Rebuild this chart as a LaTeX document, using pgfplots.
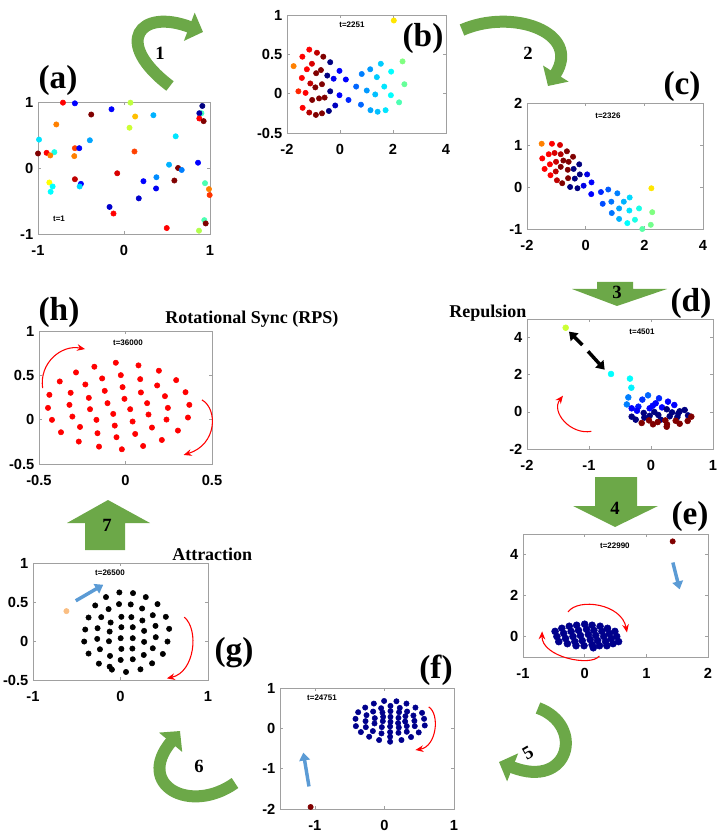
\documentclass[border=0pt]{standalone}
\usepackage{pgfplots}
\pgfplotsset{compat=1.18}
\usetikzlibrary{arrows.meta}
\usepackage{fontspec}
\setmainfont{Liberation Sans}
\newfontfamily\tnr{Liberation Serif}
\definecolor{axgray}{RGB}{160,160,160}
\definecolor{garrow}{RGB}{108,168,72}
\definecolor{barrow}{RGB}{91,155,213}
\definecolor{dred}{RGB}{128,0,0}
\definecolor{navy}{RGB}{0,0,140}
\definecolor{peach}{RGB}{250,190,130}
\pgfplotsset{
  panel/.style={scale only axis, anchor=north west, clip=false,
    axis line style={draw=axgray}, tick style={draw=axgray, line width=0.4pt},
    major tick length=2.5pt, tick align=inside,
    tick label style={font=\bfseries\fontsize{11}{12}\selectfont, text=black},
    xticklabel style={yshift=-5pt},
    colormap/jet, point meta min=0, point meta max=8},
  jetpts/.style={scatter, only marks, mark=*, mark size=2pt, point meta=explicit,
    scatter/use mapped color={draw=mapped color, fill=mapped color}},
}
\tikzset{
  tlab/.style={font=\bfseries\fontsize{6}{7}\selectfont},
  redarc/.style={red, line width=0.8pt, -{Stealth[length=6pt,width=5pt]}},
  bluearr/.style={barrow, line width=2.6pt, -{Triangle[length=6pt,width=8pt]}},
}
\begin{document}
\begin{tikzpicture}
\path[use as bounding box] (0,0) rectangle (544.5pt,-627.75pt);

% (a)
\begin{axis}[panel, at={(28.5pt,-76.5pt)}, width=129pt, height=99pt,
  xmin=-1, xmax=1, ymin=-1, ymax=1, xtick={-1,0,1}, ytick={-1,0,1},
  xticklabels={-1,0,1}, yticklabels={-1,0,1}]
\addplot[jetpts] table[meta=c] {
x y c
-0.71 0.99 7
-0.571 0.98 1
0.075 0.99 4.5
-0.381 0.81 8
-0.145 0.89 1
0.13 0.78 5.5
0.342 0.80 2.4
0.90 0.83 3.5
0.911 0.94 0
0.876 0.83 0.3
0.876 0.75 7
0.926 0.71 8
-0.787 0.66 6
0.064 0.61 4.6
-0.988 0.43 2.8
-0.397 0.42 2.3
0.601 0.48 2.8
-1.0 0.22 8
-0.90 0.23 7
-0.81 0.24 3.2
-0.857 0.19 6
-0.571 0.30 6.5
-0.52 0.30 1
-0.578 0.18 6
0.122 0.25 6.5
0.524 0.05 2.4
0.629 0.0 8
0.671 -0.03 2
0.861 0.08 1
-0.571 -0.17 7.5
-0.079 -0.08 7.3
-0.501 -0.24 1
-0.516 -0.28 2.7
-0.868 -0.22 5
-0.83 -0.28 3
-0.853 -0.36 3
0.226 -0.20 1
0.377 -0.14 2.1
0.373 -0.31 0.9
0.172 -0.46 0.6
0.586 -0.19 8
0.942 -0.23 3.6
0.988 -0.32 6
0.996 -0.41 6.6
-0.168 -0.59 0.6
-0.122 -0.69 7
0.497 -0.91 7
0.934 -0.79 3.6
0.95 -0.84 8
0.872 -0.95 4.4
};
\node[tlab] at (axis cs:-0.756,-0.77) {t=1};
\end{axis}

% (b)
\begin{axis}[panel, at={(215.25pt,-11.25pt)}, width=119.25pt, height=88.5pt,
  xmin=-2, xmax=4, ymin=-0.5, ymax=1, xtick={-2,0,2,4}, ytick={-0.5,0,0.5,1},
  xticklabels={-2,0,2,4}, yticklabels={-0.5,0,0.5,1}]
\addplot[jetpts] table[meta=c] {
x y c
2.03 0.93 5.2
-1.75 0.35 6
-1.42 0.47 7
-1.16 0.56 7
-0.87 0.52 7.5
-0.63 0.47 8
-0.37 0.40 0
-1.25 0.31 7
-1.06 0.38 7.3
-0.90 0.26 8
-0.72 0.30 8
-0.48 0.23 0
-0.24 0.19 0.9
-0.02 0.29 1
0.22 0.18 1
-1.44 0.20 7
-1.12 0.13 7.5
-0.93 0.08 8
-0.68 0.12 8
-0.37 0.03 0
-1.57 0.03 6.7
-1.30 0.01 7
-0.02 -0.02 1
-1.05 -0.08 8
-0.79 -0.06 8
-0.58 -0.05 8
-0.18 -0.15 0.5
0.32 -0.08 1.3
-1.41 -0.18 7
-1.16 -0.24 7.6
-0.91 -0.27 8
-0.68 -0.25 8
-0.42 -0.22 0
0.61 0.09 1.8
0.82 0.25 2
1.14 0.31 2.2
1.39 0.21 2.6
1.54 0.38 2.6
1.93 0.28 3
2.36 0.41 4
2.43 0.12 3.8
1.01 0.04 2.2
1.33 -0.01 2.5
1.67 0.09 2.8
1.92 -0.02 3
2.23 -0.11 3.6
0.79 -0.14 1.8
1.15 -0.21 2.3
1.42 -0.23 2.5
1.72 -0.21 2.8
};
\node[tlab] at (axis cs:0.45,0.87) {t=2251};
\end{axis}

% (c)
\begin{axis}[panel, at={(395.25pt,-77.25pt)}, width=132pt, height=94.5pt,
  xmin=-2, xmax=4, ymin=-1, ymax=2, xtick={-2,0,2,4}, ytick={-1,0,1,2},
  xticklabels={-2,0,2,4}, yticklabels={-1,0,1,2}]
\addplot[jetpts] table[meta=c] {
x y c
-1.50 1.03 6
-1.15 1.03 7
-0.875 1.00 7.3
-1.48 0.68 7
-1.26 0.78 7
-1.06 0.81 7.3
-0.85 0.78 7.6
-0.64 0.85 8
-1.40 0.43 7
-1.22 0.54 7
-1.01 0.60 7.4
-0.76 0.63 8
-0.58 0.60 8
-0.43 0.72 8
-1.20 0.28 7
-1.02 0.37 7.5
-0.85 0.48 8
-0.61 0.41 8
-0.41 0.43 0
-0.22 0.54 0
-0.98 0.16 7.5
-0.80 0.09 8
-0.60 0.21 8
-0.37 0.20 0
-0.20 0.30 0
0.05 0.30 0.8
-0.53 0.00 0
-0.28 -0.03 0
-0.07 0.03 0.8
0.20 0.11 1
0.19 -0.17 1
0.52 -0.12 1.3
0.77 -0.06 1.7
0.58 -0.40 1.6
0.875 -0.35 1.9
1.08 -0.15 2
1.30 -0.35 2.4
1.50 -0.25 2.7
0.89 -0.62 1.9
1.14 -0.51 2.3
1.14 -0.76 2.4
1.49 -0.56 2.8
1.82 -0.51 3.2
1.42 -0.86 3
1.68 -0.78 3.2
1.93 -1.00 3.7
2.22 -0.90 3.9
2.27 -0.60 4
2.24 -0.03 5.2
};
\node[tlab] at (axis cs:0.76,1.69) {t=2326};
\end{axis}

% (d)
\begin{axis}[panel, at={(395.25pt,-239.25pt)}, width=139.5pt, height=97.5pt,
  xmin=-2, xmax=1, ymin=-2, ymax=5, xtick={-2,-1,0,1}, ytick={-2,0,2,4},
  xticklabels={-2,-1,0,1}, yticklabels={-2,0,2,4}]
\addplot[jetpts, mark size=2.2pt] table[meta=c] {
x y c
-1.376 4.53 4.6
-0.645 2.04 3
-0.34 1.79 3
-0.317 1.30 2.9
-0.366 0.78 2
-0.39 0.40 2
-0.048 0.89 1.8
-0.14 0.66 1.4
0.129 0.73 1.3
-0.204 0.28 1.2
0.075 0.46 1
0.274 0.55 1
0.376 0.37 1
-0.312 0.19 1
-0.226 0.06 1
-0.022 0.19 1
0.027 0.33 1
0.177 0.24 1
0.253 0.14 0
0.339 -0.03 0
0.441 -0.08 0
0.543 0.10 0
-0.312 -0.26 0
-0.247 -0.42 0
-0.118 -0.06 0
-0.108 -0.31 0
-0.022 -0.21 0
0.054 -0.01 0
0.118 -0.17 0
0.156 -0.42 0
0.301 -0.24 0
0.425 -0.28 0
0.462 0.03 0
0.597 -0.19 0
-0.15 -0.60 8
-0.032 -0.46 8
0.032 -0.67 8
0.108 -0.55 8
0.231 -0.46 8
0.258 -0.67 8
0.253 -0.80 8
0.398 -0.48 8
0.462 -0.64 8
0.591 -0.49 8
0.65 -0.26 8
};
\node[tlab] at (axis cs:-0.145,4.3) {t=4501};
\draw[black, line width=2.6pt, -{Triangle[length=6pt,width=8pt]}] (axis cs:-1.108,3.6) -- (axis cs:-1.323,4.32);
\draw[black, line width=2.6pt, -{Triangle[length=6pt,width=8pt]}] (axis cs:-1.016,3.26) -- (axis cs:-0.747,2.27);
\draw[redarc] (axis cs:-0.962,-1.05) .. controls (axis cs:-1.3,-1.25) and (axis cs:-1.62,0.0) .. (axis cs:-1.42,0.87);
\end{axis}

% (h)
\begin{axis}[panel, at={(29.25pt,-248.25pt)}, width=129.75pt, height=99.75pt,
  xmin=-0.5, xmax=0.5, ymin=-0.5, ymax=1, xtick={-0.5,0,0.5}, ytick={-0.5,0,0.5,1},
  xticklabels={-0.5,0,0.5}, yticklabels={-0.5,0,0.5,1}]
\addplot[only marks, mark=*, mark size=2pt, red] table {
x y
-0.440 0.280
-0.448 0.133
-0.425 -0.002
-0.373 -0.142
-0.380 0.431
-0.317 0.303
-0.324 0.167
-0.307 0.035
-0.263 -0.082
-0.270 -0.247
-0.286 0.533
-0.232 0.397
-0.212 0.246
-0.205 0.118
-0.168 -0.002
-0.162 -0.153
-0.153 -0.304
-0.180 0.597
-0.135 0.465
-0.120 0.325
-0.104 0.186
-0.071 0.065
-0.062 -0.067
-0.052 -0.198
-0.021 -0.334
-0.056 0.642
-0.027 0.502
-0.017 0.367
-0.006 0.235
0.027 0.118
0.041 -0.021
0.056 -0.161
0.102 -0.297
0.075 0.612
0.085 0.457
0.089 0.307
0.125 0.186
0.133 0.058
0.153 -0.089
0.210 -0.229
0.193 0.552
0.183 0.386
0.228 0.265
0.245 0.133
0.237 0.001
0.303 -0.123
0.293 0.446
0.347 0.310
0.369 0.167
0.361 0.024
};
\node[tlab] at (axis cs:0.014,0.865) {t=36000};
\draw[redarc] (axis cs:-0.479,0.355) .. controls (axis cs:-0.50,0.64) and (axis cs:-0.37,0.85) .. (axis cs:-0.234,0.796);
\draw[redarc] (axis cs:0.442,0.223) .. controls (axis cs:0.535,0.12) and (axis cs:0.53,-0.28) .. (axis cs:0.336,-0.398);
\end{axis}

% (e)
\begin{axis}[panel, at={(392.25pt,-400.5pt)}, width=138.75pt, height=92.25pt,
  xmin=-1, xmax=2, ymin=-1, ymax=5, xtick={-1,0,1,2}, ytick={0,2,4},
  xticklabels={-1,0,1,2}, yticklabels={0,2,4}]
\addplot[only marks, mark=*, mark size=2.6pt, navy] table {
x y
-0.48 0.25
-0.45 0.00
-0.42 -0.25
-0.37 0.40
-0.34 0.15
-0.31 -0.10
-0.28 -0.35
-0.25 0.50
-0.22 0.25
-0.19 0.00
-0.16 -0.25
-0.14 -0.45
-0.13 0.55
-0.10 0.30
-0.07 0.05
-0.04 -0.20
-0.01 -0.45
0.00 0.60
0.03 0.35
0.06 0.10
0.09 -0.15
0.12 -0.40
0.14 -0.55
0.12 0.55
0.15 0.30
0.18 0.05
0.21 -0.20
0.24 -0.45
0.25 0.50
0.28 0.25
0.31 0.00
0.34 -0.25
0.36 -0.45
0.37 0.40
0.40 0.15
0.43 -0.10
0.46 -0.35
0.49 0.25
0.52 0.00
0.55 -0.25
};
\addplot[only marks, mark=*, mark size=2pt, dred] coordinates {(1.427,4.64)};
\node[tlab] at (axis cs:0.49,4.41) {t=22990};
\draw[bluearr] (axis cs:1.43,3.61) -- (axis cs:1.54,2.30);
\draw[redarc] (axis cs:-0.27,1.2) .. controls (axis cs:-0.1,1.9) and (axis cs:0.6,1.6) .. (axis cs:0.686,0.2);
\draw[redarc] (axis cs:0.238,-0.95) .. controls (axis cs:0.1,-1.5) and (axis cs:-0.7,-1.0) .. (axis cs:-0.69,0.25);
\end{axis}

% (g)
\begin{axis}[panel, at={(24.75pt,-422.25pt)}, width=131.25pt, height=87.75pt,
  xmin=-1, xmax=1, ymin=-0.5, ymax=1, xtick={-1,0,1}, ytick={-0.5,0,0.5,1},
  xticklabels={-1,0,1}, yticklabels={-0.5,0,0.5,1}]
\addplot[only marks, mark=*, mark size=2pt, black] table {
x y
-0.166 0.563
-0.013 0.623
0.143 0.614
0.289 0.563
-0.289 0.456
-0.136 0.409
-0.017 0.473
0.117 0.469
0.247 0.417
0.423 0.473
-0.365 0.301
-0.220 0.306
-0.113 0.237
0.010 0.310
0.124 0.306
0.250 0.263
0.369 0.331
0.518 0.310
-0.403 0.147
-0.262 0.164
-0.124 0.121
0.010 0.177
0.140 0.177
0.270 0.130
0.400 0.194
0.556 0.156
-0.415 -0.007
-0.266 0.027
-0.132 -0.003
0.002 0.036
0.140 0.036
0.270 -0.011
0.403 0.049
0.537 -0.007
-0.365 -0.161
-0.235 -0.106
-0.120 -0.191
0.010 -0.101
0.136 -0.097
0.266 -0.179
0.369 -0.093
0.484 -0.166
-0.247 -0.290
-0.124 -0.329
0.002 -0.243
0.140 -0.234
0.361 -0.286
-0.098 -0.367
0.063 -0.397
0.228 -0.363
};
\addplot[only marks, mark=*, mark size=2pt, peach] coordinates {(-0.618,0.383)};
\node[tlab] at (axis cs:-0.12,0.87) {t=26500};
\draw[bluearr] (axis cs:-0.511,0.516) -- (axis cs:-0.197,0.721);
\draw[redarc] (axis cs:0.728,0.306) .. controls (axis cs:0.90,0.15) and (axis cs:0.85,-0.40) .. (axis cs:0.53,-0.479);
\end{axis}

% (f)
\begin{axis}[panel, at={(210pt,-516pt)}, width=130.5pt, height=90.75pt,
  xmin=-1.5, xmax=1, ymin=-2, ymax=1, xtick={-1,0,1}, ytick={-2,-1,0,1},
  xticklabels={-1,0,1}, yticklabels={-2,-1,0,1}]
\addplot[only marks, mark=*, mark size=2pt, navy] table {
x y
-0.004 0.679
0.173 0.671
-0.152 0.614
0.317 0.614
-0.276 0.515
-0.047 0.499
0.087 0.556
0.221 0.507
0.446 0.515
-0.377 0.400
-0.162 0.416
-0.028 0.392
0.087 0.425
0.211 0.400
0.326 0.416
0.541 0.384
-0.257 0.326
-0.138 0.252
-0.018 0.285
0.087 0.285
0.202 0.260
0.302 0.301
0.417 0.318
-0.415 0.236
-0.271 0.178
-0.142 0.121
-0.023 0.178
0.087 0.162
0.197 0.129
0.298 0.170
0.431 0.186
0.570 0.236
-0.410 0.055
-0.267 0.030
-0.037 0.030
0.082 0.047
0.207 0.022
0.321 0.055
0.436 0.055
0.580 0.071
-0.338 -0.093
-0.166 -0.068
-0.042 -0.126
0.082 -0.093
0.202 -0.110
0.321 -0.085
0.493 -0.101
-0.219 -0.208
-0.076 -0.290
0.082 -0.332
0.245 -0.290
0.383 -0.216
0.082 -0.208
};
\addplot[only marks, mark=*, mark size=2pt, dred] coordinates {(-1.06,-1.95)};
\node[tlab] at (axis cs:-0.897,0.75) {t=24751};
\draw[bluearr] (axis cs:-1.084,-1.44) -- (axis cs:-1.165,-0.60);
\draw[redarc] (axis cs:0.637,0.532) .. controls (axis cs:0.80,0.35) and (axis cs:0.75,-0.45) .. (axis cs:0.446,-0.537);
\end{axis}

% decorations in pixel units
\begin{scope}[x=0.75pt,y=-0.75pt]
\tikzset{plab/.style={font=\tnr\bfseries\fontsize{25}{27}\selectfont},
  nlab/.style={font=\tnr\bfseries\fontsize{14}{16}\selectfont},
  wlab/.style={font=\tnr\bfseries\fontsize{13.5}{15}\selectfont},
  garr/.style={garrow, line width=9pt, -{Triangle[length=11pt,width=22pt]}}}
\node[plab] at (58,80) {(a)};
\node[plab] at (423,38) {(b)};
\node[plab] at (682,86) {(c)};
\node[plab] at (691,303) {(d)};
\node[plab] at (690,516) {(e)};
\node[plab] at (436,670) {(f)};
\node[plab] at (234,653) {(g)};
\node[plab] at (59,312) {(h)};
\node[wlab, anchor=west, inner sep=0pt] at (449,313) {Repulsion};
\node[wlab, anchor=west, inner sep=0pt] at (172,554) {Attraction};
\node[wlab, anchor=west, inner sep=0pt] at (165,319) {Rotational Sync (RPS)};
% curved arrows
\draw[garr] (170,86) .. controls (112,42) and (140,8) .. (203,32);
\node[nlab] at (160,53) {1};
\draw[garr] (462,30) .. controls (512,8) and (582,32) .. (548,86);
\node[nlab] at (528,53) {2};
\draw[garr] (538,708) .. controls (585,725) and (570,790) .. (499,762);
\node[nlab, rotate=30] at (528,753) {5};
\draw[garr] (235,783) .. controls (190,815) and (135,785) .. (180,731);
\node[nlab] at (199,766) {6};
% block arrows
\fill[garrow] (597,282) -- (633,282) -- (633,289) -- (667,289) -- (617,306) -- (572,289) -- (597,289) -- cycle;
\node[nlab] at (617,292) {3};
\fill[garrow] (595,477) -- (637,477) -- (637,506) -- (658,506) -- (615,527) -- (573,506) -- (595,506) -- cycle;
\node[nlab] at (615,508) {4};
\fill[garrow] (108,500) -- (150,523) -- (125,523) -- (125,550) -- (85,550) -- (85,523) -- (67,523) -- cycle;
\node[nlab] at (107,525) {7};
\end{scope}
\end{tikzpicture}
\end{document}
